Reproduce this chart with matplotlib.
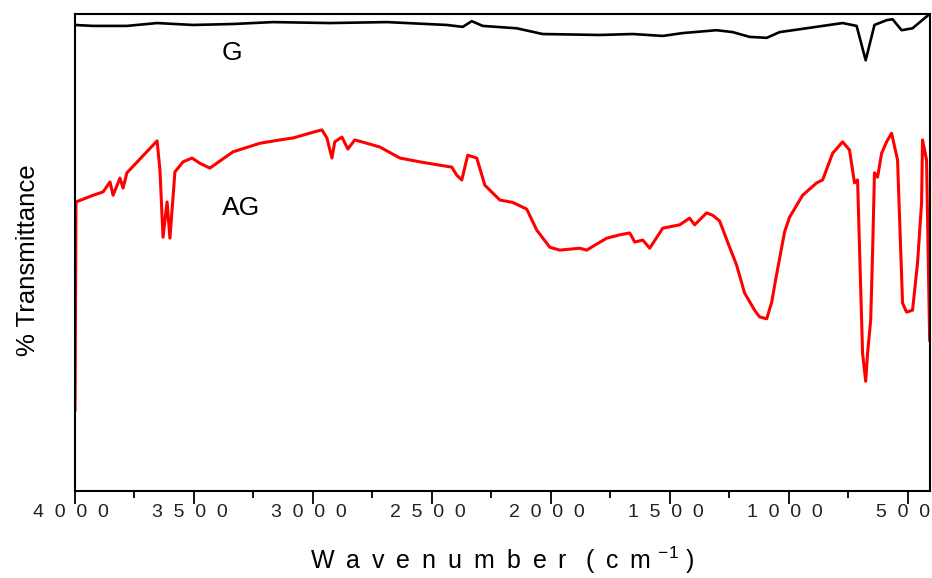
import numpy as np
import matplotlib
matplotlib.use("Agg")
import matplotlib.pyplot as plt
from matplotlib.ticker import MultipleLocator
from matplotlib.transforms import ScaledTranslation

plt.rcParams['font.family'] = ['Liberation Sans', 'DejaVu Sans']

# FTIR spectra (wavenumber in cm-1, % transmittance)
ag_wn = [4000, 3996, 3924, 3882, 3853, 3840, 3811, 3798, 3782, 3655, 3643, 3630,
         3613, 3601, 3580, 3546, 3508, 3475, 3433, 3336, 3223, 3139, 3084, 3000,
         2962, 2941, 2920, 2908, 2878, 2853, 2824, 2773, 2718, 2634, 2550, 2466,
         2416, 2395, 2374, 2349, 2311, 2277, 2214, 2160, 2101, 2059, 2004, 1962,
         1878, 1849, 1765, 1710, 1668, 1647, 1613, 1584, 1529, 1458, 1416, 1395,
         1345, 1319, 1290, 1248, 1219, 1185, 1143, 1122, 1092, 1071, 1055, 1017,
         996, 941, 882, 857, 815, 773, 744, 723, 710, 702, 689, 676, 668, 655,
         647, 639, 626, 609, 588, 567, 542, 521, 504, 479, 458, 441, 437, 420, 407]
ag_t = [17.0, 60.6, 62.0, 62.7, 64.8, 62.0, 65.6, 63.5, 66.7, 73.4, 67.3, 53.2,
        60.6, 53.0, 66.9, 69.0, 69.8, 68.7, 67.7, 71.1, 72.9, 73.6, 74.0, 75.2,
        75.7, 74.0, 69.8, 73.2, 74.2, 71.7, 73.6, 72.9, 72.1, 69.8, 69.0, 68.3,
        67.9, 66.2, 65.2, 70.4, 69.8, 64.1, 61.0, 60.5, 59.1, 54.7, 51.1, 50.5,
        50.9, 50.5, 53.0, 53.7, 54.1, 52.2, 52.6, 50.9, 55.1, 55.8, 57.2, 55.8,
        58.3, 57.8, 56.6, 51.1, 47.4, 41.5, 37.9, 36.5, 36.1, 39.6, 44.2, 54.3,
        57.4, 62.0, 64.6, 65.2, 70.8, 73.2, 71.5, 64.6, 65.2, 51.1, 28.9, 23.0,
        28.9, 35.8, 49.9, 66.7, 65.8, 70.8, 73.2, 75.0, 69.4, 39.4, 37.5, 37.9,
        47.8, 60.4, 73.6, 69.4, 31.6]

g_wn = [4000, 3924, 3782, 3655, 3504, 3336, 3168, 2929, 2689, 2437, 2370, 2332,
        2286, 2143, 2034, 1794, 1655, 1529, 1445, 1303, 1235, 1164, 1092, 1038,
        954, 773, 714, 693, 676, 660, 639, 588, 563, 525, 479, 412, 407]
g_t = [97.7, 97.5, 97.5, 98.1, 97.7, 97.9, 98.3, 98.1, 98.3, 97.7, 97.3, 98.5,
       97.5, 97.0, 95.8, 95.6, 95.8, 95.4, 96.0, 96.6, 96.2, 95.2, 95.0, 96.2,
       96.8, 98.1, 97.5, 93.5, 90.3, 93.5, 97.7, 98.7, 98.9, 96.6, 97.0, 99.8,
       99.8]

tick_pos = [4000, 3500, 3000, 2500, 2000, 1500, 1000, 500]
tick_txt = ['4  0  0  0', '3  5  0  0', '3  0  0  0', '2  5  0  0',
            '2  0  0  0', '1  5  0  0', '1  0  0  0', '5  0  0']

fig = plt.figure(figsize=(9.32, 5.78), dpi=100)
ax = fig.add_axes([0.0805, 0.1505, 0.9175, 0.8253])

ax.plot(g_wn, g_t, color='black', lw=1.9)
ax.plot(ag_wn, ag_t, color='red', lw=2.2)

ax.text(3340, 91.8, 'G', fontsize=19, ha='center', va='center')
ax.text(3302, 59.3, 'AG', fontsize=19, ha='center', va='center')

ax.set_xlim(4000, 405)
ax.set_ylim(0, 100)
ax.xaxis.set_minor_locator(MultipleLocator(250))
ax.set_xticks(tick_pos)
ax.set_xticklabels(tick_txt)
ax.set_yticks([])
ax.tick_params(axis='x', which='major', direction='out', length=9, width=1.3,
               labelsize=14, pad=0.5, labelcolor='#222222')
ax.tick_params(axis='x', which='minor', direction='out', length=5, width=1.3)
for s in ax.spines.values():
    s.set_linewidth(1.5)

shift = ScaledTranslation(-4 / 100, 0, fig.dpi_scale_trans)
for lab in ax.get_xticklabels():
    lab.set_transform(lab.get_transform() + shift)

xl = ' \u2009'.join('Wavenumber') + ' \u2009 ( \u2009c \u2009m'
ax.set_xlabel(xl + r' $^{\mathregular{-1}}$ )', fontsize=18, labelpad=17)
ax.set_ylabel('% Transmittance', fontsize=18.5)
ax.yaxis.set_label_coords(-0.041, 0.484)

fig.savefig('out.png', dpi=100)
